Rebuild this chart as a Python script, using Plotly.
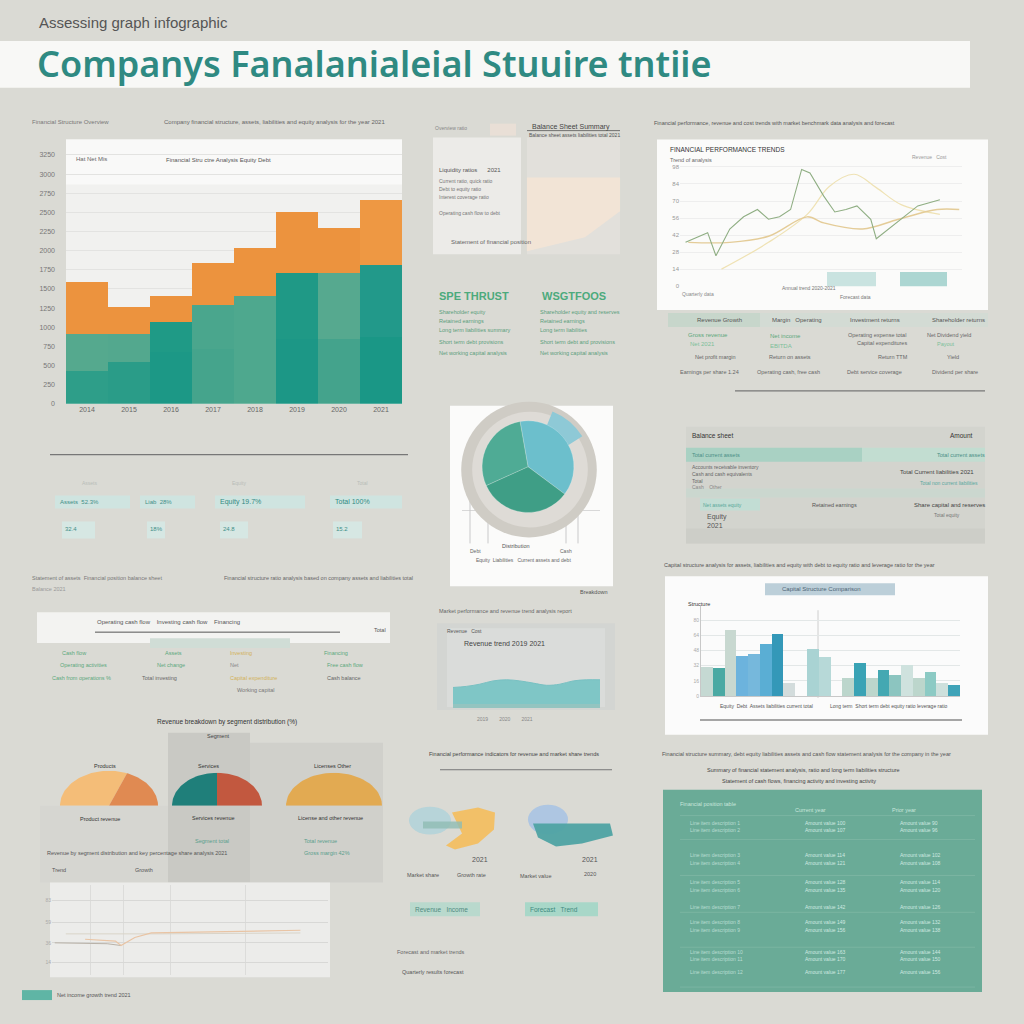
import numpy as np
import plotly.graph_objects as go

W, H = 1024, 1024

# ---------------- data ----------------
years = ["2014", "2015", "2016", "2017", "2018", "2019", "2020", "2021"]
equity_core = [430, 547, 677, 716, 755, 846, 846, 872]
equity_reserves = [481, 364, 391, 586, 664, 872, 872, 951]
debt_total = [690, 365, 351, 547, 625, 795, 586, 846]

trend_a_x = [0, 8, 11, 16, 21, 26, 30, 34, 38, 42, 45, 50, 54, 58, 62, 67, 69, 73, 79, 84, 92]
trend_a_y = [36, 44, 25, 47, 57, 63, 55, 57, 63, 96, 93, 74, 61, 63, 66, 55, 39, 46, 57, 66, 71]
trend_b_x = [1, 16, 30, 44, 50, 64, 77, 91, 99]
trend_b_y = [36, 36, 41, 57, 52, 47, 55, 63, 63]
trend_c_x = [13, 30, 44, 52, 61, 69, 78, 92]
trend_c_y = [14, 36, 59, 82, 92, 81, 67, 59]
forecast_x = [60, 86]
forecast_y = [12, 12]

pie_labels = ["Assets", "Liabilities", "Equity"]
pie_values = [38, 33, 29]
pie_highlight = [10, 90]

structure_cats = ["c%02d" % i for i in range(22)]
structure_vals = [30, 29, 70, 42, 44, 55, 65, 13, 0, 50, 41, 0, 19, 35, 19, 27, 22, 33, 19, 25, 13, 11]

market_x = list(range(12))
market_y = [15, 16, 18, 21, 22, 21, 19, 17, 18, 21, 22, 22]

growth_x = [12, 23, 25, 30, 36, 54, 72, 90]
growth_y = [40, 38, 33, 42, 47, 48, 49, 50]
base_x = [1, 20, 25]
base_y = [36, 35, 33]
flat_x = [5, 40, 90]
flat_y = [46, 46, 47]

segment_products = [62, 38]
segment_services = [50, 50]
segment_licenses = [100]

# ---------------- helpers ----------------
def dom_x(a, b):
    return [a / W, b / W]

def dom_y(top, bottom):
    return [1 - bottom / H, 1 - top / H]

shapes = []
annotations = []

def R(x0, y0, x1, y1, fill, opacity=1.0):
    shapes.append(dict(type="rect", xref="paper", yref="paper",
                       x0=x0 / W, x1=x1 / W, y0=1 - y0 / H, y1=1 - y1 / H,
                       fillcolor=fill, opacity=opacity,
                       line=dict(width=0), layer="below"))

def L(x0, y0, x1, y1, color, w=1.0):
    shapes.append(dict(type="line", xref="paper", yref="paper",
                       x0=x0 / W, x1=x1 / W, y0=1 - y0 / H, y1=1 - y1 / H,
                       line=dict(color=color, width=w), layer="below"))

def E(cx, cy, rx, ry, fill, opacity=1.0):
    shapes.append(dict(type="circle", xref="paper", yref="paper",
                       x0=(cx - rx) / W, x1=(cx + rx) / W,
                       y0=1 - (cy + ry) / H, y1=1 - (cy - ry) / H,
                       fillcolor=fill, opacity=opacity, line=dict(width=0), layer="below"))

def P(points, fill, opacity=1.0):
    d = "M " + " L ".join("%.4f,%.4f" % (x / W, 1 - y / H) for x, y in points) + " Z"
    shapes.append(dict(type="path", xref="paper", yref="paper", path=d,
                       fillcolor=fill, opacity=opacity, line=dict(width=0), layer="below"))

def T(x, y, s, size=6, color="#666", anchor="left", family="Liberation Sans", weight="normal"):
    annotations.append(dict(x=x / W, y=1 - y / H, xref="paper", yref="paper", text=s,
                            showarrow=False, xanchor=anchor, yanchor="middle",
                            font=dict(size=size, color=color, family=family, weight=weight)))

# ---------------- panels / decoration ----------------
R(0, 41, 970, 88, "#f8f8f6")
R(66, 140, 402, 405, "#f1f1ef")
R(66, 140, 402, 185, "#f9f9f8")
R(433, 138, 521, 255, "#ecebe8")
R(527, 138, 620, 255, "#e2e0db")
P([(527, 178), (620, 178), (620, 212), (585, 238), (527, 252)], "#f2e4d6")
R(490, 124, 516, 136, "#e9dfd6")
L(527, 131, 620, 131, "#555", 0.8)
R(657, 140, 988, 311, "#fbfbfa")
R(668, 314, 988, 328, "#d3dbd4")
R(668, 314, 760, 328, "#c7d6cb")
L(735, 392, 985, 392, "#777", 1.2)
L(50, 456, 408, 456, "#777", 1.2)
for (a, b) in [(55, 130), (140, 195), (215, 305), (330, 402)]:
    R(a, 497, b, 510, "#cfe4e0")
for (a, b) in [(62, 95), (147, 165), (220, 248), (333, 362)]:
    R(a, 523, b, 540, "#d6e7e3")
R(450, 407, 613, 588, "#fbfbfa")
for xx in [470, 488, 566, 578]:
    L(xx, 500, xx, 545, "#b5b5b5", 0.7)
L(462, 512, 600, 512, "#c9c9c9", 0.7)
R(686, 428, 985, 545, "#d3d4ce")
R(686, 449, 862, 463, "#a9d1c3")
R(862, 449, 985, 463, "#c2ddd1")
R(686, 490, 985, 499, "#cbd7cf")
R(700, 500, 760, 512, "#c2ddd4")
R(686, 530, 985, 545, "#cdcec8")
R(665, 578, 988, 737, "#fbfbfb")
R(765, 585, 895, 597, "#bccfd9")
L(818, 612, 818, 700, "#c4c4c4", 0.8)
L(700, 722, 962, 722, "#888", 1.5)
R(37, 614, 390, 645, "#f3f3f1")
L(95, 634, 340, 634, "#555", 1)
R(150, 640, 290, 650, "#d0ddd6")
R(168, 735, 250, 885, "#c9c9c4")
R(250, 745, 383, 885, "#d0d0cb")
R(40, 808, 168, 885, "#d6d6d1")
R(437, 625, 615, 712, "#d3d5d2")
R(447, 630, 605, 709, "#dadcda")
R(453, 704, 600, 710, "#93c4c0")
L(440, 772, 612, 772, "#777", 1)
R(50, 885, 330, 980, "#ececea")
R(663, 792, 982, 995, "#6aab97")
for yy in [818, 842, 878, 915, 950, 990]:
    L(680, yy, 975, yy, "#86bcaa", 0.6)
R(410, 905, 480, 919, "#b9d9cd")
R(525, 905, 598, 919, "#a8d7c8")
R(22, 993, 52, 1003, "#5fb5a5")
# decorative blobs
E(430, 823, 21, 14, "#b3d3d9", 0.9)
P([(452, 815), (478, 810), (495, 815), (494, 832), (478, 846), (455, 852), (446, 848), (462, 836)], "#f3bf62", 0.95)
R(423, 824, 462, 831, "#8fbbb3", opacity=0.8)
E(548, 822, 20, 15, "#a9c3e3", 0.9)
P([(533, 826), (610, 826), (613, 838), (582, 846), (556, 849), (538, 840)], "#4fa3a3", 0.95)

fig = go.Figure()

# ---------------- main stacked bar chart ----------------
fig.add_trace(go.Bar(x=years, y=equity_core, name="Equity",
                     marker=dict(color=["#2e9e89", "#2a9c88", "#1c9886", "#45a48c",
                                        "#4ea88e", "#1c9786", "#44a38c", "#1a9786"], line=dict(width=0)),
                     xaxis="x", yaxis="y", hoverinfo="skip"))
fig.add_trace(go.Bar(x=years, y=equity_reserves, name="Reserves",
                     marker=dict(color=["#55a98e", "#53a88e", "#1f9a86", "#4aa68d",
                                        "#4ea88e", "#1f9986", "#56a98f", "#22998a"], line=dict(width=0)),
                     xaxis="x", yaxis="y", hoverinfo="skip"))
fig.add_trace(go.Bar(x=years, y=debt_total, name="Debt",
                     marker=dict(color=["#ec933e"] * 7 + ["#ee9843"], line=dict(width=0)),
                     xaxis="x", yaxis="y", hoverinfo="skip"))

# ---------------- line chart (top right) ----------------
fig.add_trace(go.Bar(x=forecast_x, y=forecast_y, width=[18, 17],
                     marker=dict(color=["#c9e3e0", "#acd6d2"], line=dict(width=0)),
                     xaxis="x2", yaxis="y2", hoverinfo="skip"))
fig.add_trace(go.Scatter(x=trend_c_x, y=trend_c_y, mode="lines",
                         line=dict(color="#efe2b4", width=1.2, shape="spline"),
                         xaxis="x2", yaxis="y2", hoverinfo="skip"))
fig.add_trace(go.Scatter(x=trend_b_x, y=trend_b_y, mode="lines",
                         line=dict(color="#e4cc98", width=1.4, shape="spline"),
                         xaxis="x2", yaxis="y2", hoverinfo="skip"))
fig.add_trace(go.Scatter(x=trend_a_x, y=trend_a_y, mode="lines",
                         line=dict(color="#8fae83", width=1.1),
                         xaxis="x2", yaxis="y2", hoverinfo="skip"))

# ---------------- pie chart ----------------
fig.add_trace(go.Pie(values=[1], marker=dict(colors=["#cfccc5"]), sort=False,
                     domain=dict(x=dom_x(461, 597), y=dom_y(403, 539)),
                     textinfo="none", hoverinfo="skip", showlegend=False))
fig.add_trace(go.Pie(values=[1], marker=dict(colors=["#dedbd6"]), sort=False,
                     domain=dict(x=dom_x(472, 588), y=dom_y(413, 529)),
                     textinfo="none", hoverinfo="skip", showlegend=False))
fig.add_trace(go.Pie(values=pie_highlight, hole=0.72, rotation=22, direction="clockwise", sort=False,
                     marker=dict(colors=["#8ec9d6", "rgba(0,0,0,0)"], line=dict(width=0)),
                     domain=dict(x=dom_x(466, 592), y=dom_y(408, 534)),
                     textinfo="none", hoverinfo="skip", showlegend=False))
fig.add_trace(go.Pie(labels=pie_labels, values=pie_values, rotation=-10, direction="clockwise", sort=False,
                     marker=dict(colors=["#6cbfcc", "#3f9e86", "#4fab95"],
                                 line=dict(color="rgba(255,255,255,0.35)", width=0.6)),
                     domain=dict(x=dom_x(482, 574), y=dom_y(422, 514)),
                     textinfo="none", hoverinfo="skip", showlegend=False))

# ---------------- bottom-right bar chart ----------------
bar_cols = ["#c5d9d3", "#4aa9a3", "#c8d8d0", "#6cb3dd", "#76b8dc", "#5aaed4", "#3498b8", "#d3dcdc",
            "#ffffff", "#a9d3d3", "#b7d9d8", "#ffffff", "#bcd6cc", "#3aa3b5", "#bcd6cc", "#44a8b2",
            "#8cc5c0", "#cfe2de", "#bcd6cc", "#8ccac4", "#cde0dc", "#3fa3b8"]
fig.add_trace(go.Bar(x=structure_cats, y=structure_vals,
                     marker=dict(color=bar_cols, line=dict(width=0)),
                     xaxis="x3", yaxis="y3", hoverinfo="skip"))

# ---------------- market area chart ----------------
fig.add_trace(go.Scatter(x=market_x, y=market_y, mode="lines", fill="tozeroy",
                         line=dict(color="#78c0c2", width=1, shape="spline"),
                         fillcolor="#7fc6c6", xaxis="x4", yaxis="y4", hoverinfo="skip"))

# ---------------- growth lines (bottom left) ----------------
fig.add_trace(go.Scatter(x=flat_x, y=flat_y, mode="lines", line=dict(color="#d9d4c8", width=1),
                         xaxis="x5", yaxis="y5", hoverinfo="skip"))
fig.add_trace(go.Scatter(x=base_x, y=base_y, mode="lines", line=dict(color="#b9b2a8", width=1),
                         xaxis="x5", yaxis="y5", hoverinfo="skip"))
fig.add_trace(go.Scatter(x=growth_x, y=growth_y, mode="lines", line=dict(color="#e9c4a4", width=1.2),
                         xaxis="x5", yaxis="y5", hoverinfo="skip"))

# ---------------- half pies ----------------
def half_pie(values, colors, xa, ya):
    total = float(sum(values))
    a0 = 180.0
    for v, c in zip(values, colors):
        a1 = a0 - 180.0 * v / total
        th = np.radians(np.linspace(a0, a1, 48))
        xs = np.concatenate([[0.0], np.cos(th), [0.0]])
        ys = np.concatenate([[0.0], np.sin(th), [0.0]])
        fig.add_trace(go.Scatter(x=xs, y=ys, mode="lines", fill="toself", fillcolor=c,
                                 line=dict(width=0, color=c), xaxis=xa, yaxis=ya, hoverinfo="skip"))
        a0 = a1

half_pie(segment_products, ["#f4bd78", "#e08a52"], "x6", "y6")
half_pie(segment_services, ["#1f7f7a", "#c2583f"], "x7", "y7")
half_pie(segment_licenses, ["#e2aa52"], "x8", "y8")

# ---------------- axes ----------------
hid = dict(visible=False, showgrid=False, zeroline=False)
layout_axes = dict(
    xaxis=dict(domain=dom_x(66, 402), anchor="y", range=[-0.5, 7.5], showgrid=False, zeroline=False,
               tickfont=dict(size=7, color="#666"), showline=False, ticks=""),
    yaxis=dict(domain=dom_y(140, 405), anchor="x", range=[0, 3450], dtick=250, showgrid=True,
               gridcolor="#e3e3e1", zeroline=False, tickfont=dict(size=7, color="#777"),
               ticklabelstandoff=10),
    xaxis2=dict(domain=dom_x(680, 962), anchor="y2", range=[-2, 100], showgrid=False, zeroline=False,
                showticklabels=False),
    yaxis2=dict(domain=dom_y(165, 287), anchor="x2", range=[0, 100], dtick=14, showgrid=True,
                gridcolor="#eeeeee", zeroline=False, tickfont=dict(size=6, color="#999")),
    xaxis3=dict(domain=dom_x(701, 960), anchor="y3", showgrid=False, zeroline=False, showticklabels=False,
                showline=True, linecolor="#c8c8c8"),
    yaxis3=dict(domain=dom_y(608, 698), anchor="x3", range=[0, 95], dtick=16, showgrid=True,
                gridcolor="#e3e7e7", zeroline=False, tickfont=dict(size=5, color="#aaa"),
                showline=True, linecolor="#c8c8c8"),
    xaxis4=dict(domain=dom_x(453, 600), anchor="y4", range=[0, 11], **hid),
    yaxis4=dict(domain=dom_y(640, 706), anchor="x4", range=[0, 60], **hid),
    xaxis5=dict(domain=dom_x(52, 328), anchor="y5", range=[0, 100], tickvals=[14, 26, 43, 70],
                showgrid=True, gridcolor="#dcdcda", zeroline=False, showticklabels=False),
    yaxis5=dict(domain=dom_y(888, 978), anchor="x5", range=[0, 100], tickvals=[14, 36, 59, 83],
                showgrid=True, gridcolor="#d8d8d6", zeroline=False, tickfont=dict(size=5, color="#aaa")),
    xaxis6=dict(domain=dom_x(60, 158), anchor="y6", range=[-1, 1], **hid),
    yaxis6=dict(domain=dom_y(773, 808), anchor="x6", range=[0, 1], **hid),
    xaxis7=dict(domain=dom_x(172, 262), anchor="y7", range=[-1, 1], **hid),
    yaxis7=dict(domain=dom_y(775, 808), anchor="x7", range=[0, 1], **hid),
    xaxis8=dict(domain=dom_x(286, 382), anchor="y8", range=[-1, 1], **hid),
    yaxis8=dict(domain=dom_y(775, 808), anchor="x8", range=[0, 1], **hid),
)

# ---------------- texts ----------------
T(37, 23, "Assessing graph infographic", 15, "#555", family="Liberation Sans")
T(35, 64, "Companys Fanalanialeial Stuuire tntiie", 36, "#2f8a82", family="Noto Sans", weight=600)

T(30, 122, "Financial Structure Overview", 6, "#777")
T(162, 122, "Company financial structure, assets, liabilities and equity analysis for the year 2021", 6, "#666")
T(74, 159, "Hat Net Mis", 6, "#666")
T(164, 160, "Financial Stru ctre Analysis Equity Debt", 6, "#555")

T(433, 128, "Overview ratio", 5, "#888")
T(530, 127, "Balance Sheet Summary", 7, "#444")
T(527, 135, "Balance sheet assets liabilities total 2021", 5, "#555")
T(437, 170, "Liquidity ratios      2021", 6, "#555")
T(437, 182, "Current ratio, quick ratio", 5, "#777")
T(437, 190, "Debt to equity ratio", 5, "#777")
T(437, 198, "Interest coverage ratio", 5, "#777")
T(437, 214, "Operating cash flow to debt", 5, "#777")
T(449, 243, "Statement of financial position", 6, "#666")

T(437, 297, "SPE THRUST", 11, "#4caa7c", family="Liberation Sans", weight=600)
T(540, 297, "WSGTFOOS", 11, "#4caa7c", family="Liberation Sans", weight=600)
for i, (a, b) in enumerate([("Shareholder equity", "Shareholder equity and reserves"),
                             ("Retained earnings", "Retained earnings"),
                             ("Long term liabilities summary", "Long term liabilities"),
                             ("Short term debt provisions", "Short term debt and provisions"),
                             ("Net working capital analysis", "Net working capital analysis")]):
    yy = [313, 322, 331, 343, 354][i]
    T(437, yy, a, 5.5, "#5a9e7c")
    T(538, yy, b, 5.5, "#5a9e7c")

T(652, 123, "Financial performance, revenue and cost trends with market benchmark data analysis and forecast", 5.5, "#555")
T(668, 150, "FINANCIAL PERFORMANCE TRENDS", 6.5, "#333")
T(668, 160, "Trend of analysis", 5.5, "#666")
T(910, 157, "Revenue   Cost", 5, "#999")
T(680, 295, "Quarterly data", 5, "#888")
T(780, 289, "Annual trend 2020-2021", 5, "#777")
T(838, 298, "Forecast data", 5, "#777")

T(695, 321, "Revenue Growth", 6, "#555")
T(770, 321, "Margin   Operating", 6, "#555")
T(848, 321, "Investment returns", 6, "#555")
T(930, 321, "Shareholder returns", 6, "#555")
T(686, 336, "Gross revenue", 6, "#5aa87c")
T(768, 337, "Net income", 6, "#5aa87c")
T(846, 336, "Operating expense total", 5.5, "#666")
T(925, 336, "Net Dividend yield", 5.5, "#666")
T(688, 345, "Net 2021", 6, "#7cbf9a")
T(768, 347, "EBITDA", 6, "#7cbf9a")
T(855, 344, "Capital expenditures", 5.5, "#666")
T(935, 345, "Payout", 5.5, "#7cbf9a")
T(693, 358, "Net profit margin", 5.5, "#666")
T(767, 358, "Return on assets", 5.5, "#666")
T(876, 358, "Return TTM", 5.5, "#666")
T(945, 358, "Yield", 5.5, "#666")
T(678, 373, "Earnings per share 1.24", 5.5, "#666")
T(755, 373, "Operating cash, free cash", 5.5, "#666")
T(845, 373, "Debt service coverage", 5.5, "#666")
T(930, 373, "Dividend per share", 5.5, "#666")

for (xx, lab) in [(80, "Assets"), (230, "Equity"), (355, "Total")]:
    T(xx, 484, lab, 5, "#b8bdb8")
T(58, 503, "Assets  52.3%", 6, "#3f8f88")
T(143, 503, "Liab  28%", 6, "#3f8f88")
T(218, 503, "Equity 19.7%", 7, "#2f8a82")
T(333, 503, "Total 100%", 7, "#2f8a82")
T(63, 531, "32.4", 6, "#3f8f88")
T(148, 531, "18%", 6, "#3f8f88")
T(221, 531, "24.8", 6, "#3f8f88")
T(334, 531, "15.2", 6, "#3f8f88")
T(30, 580, "Statement of assets  Financial position balance sheet", 5.5, "#777")
T(30, 591, "Balance 2021", 5.5, "#999")
T(222, 580, "Financial structure ratio analysis based on company assets and liabilities total", 5.5, "#666")

T(500, 548, "Distribution", 5.5, "#555")
T(468, 553, "Debt", 5, "#666")
T(558, 553, "Cash", 5, "#666")
T(474, 562, "Equity  Liabilities   Current assets and debt", 5, "#666")
T(578, 594, "Breakdown", 5.5, "#555")

T(690, 437, "Balance sheet", 6.5, "#333")
T(948, 437, "Amount", 6.5, "#333")
T(690, 456, "Total current assets", 5.5, "#4a8f86")
T(935, 456, "Total current assets", 5.5, "#4a8f86")
T(690, 468, "Accounts receivable inventory", 5, "#666")
T(690, 475, "Cash and cash equivalents", 5, "#666")
T(690, 482, "Total", 5, "#666")
T(690, 488, "Cash    Other", 5, "#888")
T(898, 473, "Total Current liabilities 2021", 6, "#444")
T(918, 484, "Total non current liabilities", 5, "#5aa8a0")
T(701, 506, "Net assets equity", 5, "#5aa89a")
T(810, 506, "Retained earnings", 5.5, "#555")
T(912, 506, "Share capital and reserves", 6, "#444")
T(705, 519, "Equity", 7, "#555")
T(705, 527, "2021", 7, "#555")
T(932, 517, "Total equity", 5, "#777")
T(662, 567, "Capital structure analysis for assets, liabilities and equity with debt to equity ratio and leverage ratio for the year", 5.5, "#555")

T(780, 591, "Capital Structure Comparison", 6, "#4d6475")
T(686, 606, "Structure", 5.5, "#333")
T(718, 708, "Equity  Debt  Assets liabilities current total", 5, "#555")
T(828, 708, "Long term  Short term debt equity ratio leverage ratio", 5, "#555")
T(660, 756, "Financial structure summary, debt equity liabilities assets and cash flow statement analysis for the company in the year", 5.5, "#555")
T(705, 772, "Summary of financial statement analysis, ratio and long term liabilities structure", 5.5, "#444")
T(720, 783, "Statement of cash flows, financing activity and investing activity", 5.5, "#444")

T(678, 806, "Financial position table", 5.5, "#c8e6dc")
T(793, 812, "Current year", 5.5, "#c8e6dc")
T(890, 812, "Prior year", 5.5, "#c8e6dc")
rows_y = [825, 832, 858, 866, 885, 893, 910, 925, 933, 955, 962, 975]
for i, yy in enumerate(rows_y):
    T(688, yy, "Line item description " + str(i + 1), 5, "#b9ddd2")
    T(803, yy, "Amount value " + str(100 + 7 * i), 5, "#cfe9e1")
    T(898, yy, "Amount value " + str(90 + 6 * i), 5, "#cfe9e1")

T(95, 624, "Operating cash flow    Investing cash flow    Financing", 6, "#555")
T(372, 632, "Total", 5.5, "#555")
T(60, 655, "Cash flow", 5.5, "#5aa87c")
T(163, 655, "Assets", 5.5, "#5aa87c")
T(228, 655, "Investing", 5.5, "#d2b15a")
T(322, 655, "Financing", 5.5, "#5aa87c")
T(58, 667, "Operating activities", 5.5, "#5aa87c")
T(155, 667, "Net change", 5.5, "#5aa87c")
T(228, 667, "Net", 5.5, "#888")
T(325, 667, "Free cash flow", 5.5, "#5aa87c")
T(50, 680, "Cash from operations %", 5.5, "#5aa87c")
T(140, 680, "Total investing", 5.5, "#666")
T(228, 680, "Capital expenditure", 5.5, "#d2b15a")
T(325, 680, "Cash balance", 5.5, "#666")
T(235, 692, "Working capital", 5.5, "#777")

T(155, 724, "Revenue breakdown by segment distribution (%)", 6.5, "#333")
T(205, 738, "Segment", 5.5, "#444")
T(92, 768, "Products", 5.5, "#333")
T(196, 768, "Services", 5.5, "#333")
T(312, 768, "Licenses Other", 5.5, "#333")
T(78, 821, "Product revenue", 5.5, "#333")
T(190, 820, "Services revenue", 5.5, "#333")
T(296, 820, "License and other revenue", 5.5, "#333")
T(193, 843, "Segment total", 5.5, "#5a9e8c")
T(302, 843, "Total revenue", 5.5, "#5a9e8c")
T(302, 856, "Gross margin 42%", 5.5, "#5a9e8c")
T(45, 856, "Revenue by segment distribution and key percentage share analysis 2021", 5.5, "#555")

T(50, 873, "Trend", 5.5, "#555")
T(133, 873, "Growth", 5.5, "#555")
T(55, 998, "Net income growth trend 2021", 5.5, "#555")

T(437, 613, "Market performance and revenue trend analysis report", 5.5, "#666")
T(445, 633, "Revenue   Cost", 5, "#555")
T(462, 645, "Revenue trend 2019 2021", 7, "#444")
T(475, 721, "2019        2020        2021", 5, "#888")
T(427, 756, "Financial performance indicators for revenue and market share trends", 5.5, "#444")
T(470, 862, "2021", 7, "#555")
T(405, 878, "Market share", 5.5, "#555")
T(455, 878, "Growth rate", 5.5, "#555")
T(580, 862, "2021", 7, "#555")
T(518, 879, "Market value", 5.5, "#555")
T(582, 877, "2020", 5.5, "#555")
T(413, 912, "Revenue   Income", 6.5, "#4f8a80")
T(528, 912, "Forecast   Trend", 6.5, "#3f8a80")
T(395, 955, "Forecast and market trends", 5.5, "#666")
T(400, 975, "Quarterly results forecast", 5.5, "#555")

fig.update_layout(
    width=W, height=H, margin=dict(l=0, r=0, t=0, b=0),
    paper_bgcolor="#dadad4", plot_bgcolor="rgba(0,0,0,0)",
    barmode="stack", bargap=0, showlegend=False,
    shapes=shapes, annotations=annotations,
    font=dict(family="Liberation Sans", color="#666"),
    **layout_axes,
)

fig.write_html("out.html", config={"displayModeBar": False},
               post_script="document.body.style.margin='0';document.body.style.overflow='hidden';"
                           "document.body.style.background='#dadad4';")
